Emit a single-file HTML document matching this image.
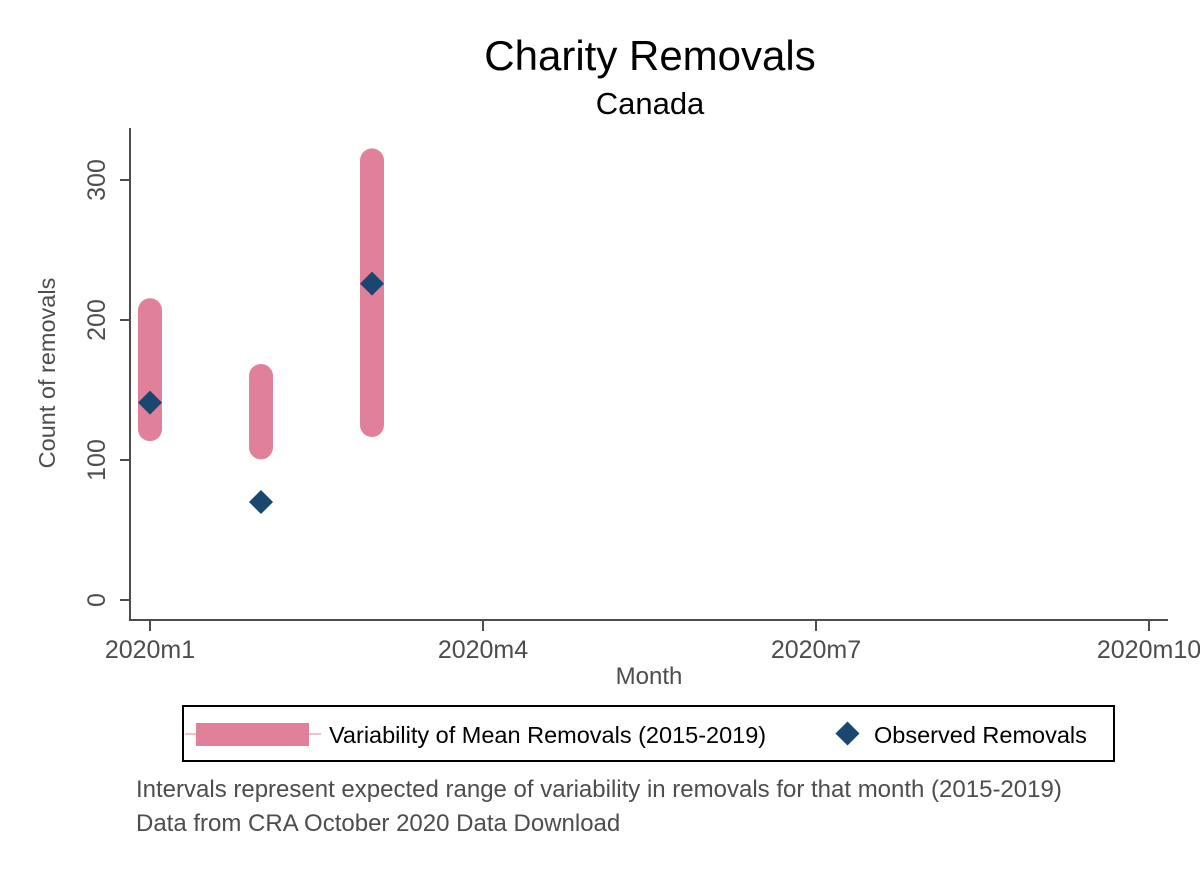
<!DOCTYPE html>
<html><head><meta charset="utf-8"><style>
body{margin:0;background:#fff;}
svg{display:block;font-family:"Liberation Sans",Arial,sans-serif;}
</style></head><body>
<svg id="chart" width="1200" height="873" viewBox="0 0 1200 873">
<rect width="1200" height="873" fill="#fff"/>
<text x="650" y="70" font-size="42" text-anchor="middle" fill="#000">Charity Removals</text>
<text x="650" y="114" font-size="31" text-anchor="middle" fill="#000">Canada</text>
<g id="axes" stroke="#4d4d4d" stroke-width="2" fill="none">
<line x1="130" y1="128" x2="130" y2="621"/>
<line x1="129" y1="620" x2="1168" y2="620"/>
</g>
<g id="yticks"></g><g id="xticks"></g>
<text transform="translate(55,373) rotate(-90)" font-size="23.5" fill="#4d4d4d" text-anchor="middle">Count of removals</text>
<text x="649" y="684" font-size="24" fill="#4d4d4d" text-anchor="middle">Month</text>
<g id="marks"></g>
<g>
<rect x="183" y="706" width="931" height="55" fill="#fff" stroke="#000" stroke-width="2"/>
<line x1="185" y1="734" x2="321" y2="734" stroke="#e0809a" stroke-width="1"/>
<rect x="196" y="723" width="113" height="23" fill="#e0809a"/>
<text x="329" y="743" font-size="23.5" fill="#000">Variability of Mean Removals (2015-2019)</text>
<rect x="839" y="725" width="17" height="17" fill="#1a476f" transform="rotate(45 847.5 733.5)"/>
<text x="874" y="743" font-size="23.5" fill="#000">Observed Removals</text>
</g>
<text x="136" y="797" font-size="24" fill="#4d4d4d">Intervals represent expected range of variability in removals for that month (2015-2019)</text>
<text x="136" y="831" font-size="24" fill="#4d4d4d">Data from CRA October 2020 Data Download</text>
</svg>
<script>
const months=[1,2,3];
const rangeLow=[122,109,125];
const rangeHigh=[207,160,314];
const observed=[141,70,226];
const yTicks=[0,100,200,300];
const xTickVals=[1,4,7,10];
const xTickLabels=["2020m1","2020m4","2020m7","2020m10"];
const NS="http://www.w3.org/2000/svg";
function xS(m){return 150+(m-1)*333/3;}
function yS(v){return 600-v*1.4;}
function mk(tag,attrs,parent){const e=document.createElementNS(NS,tag);for(const k in attrs)e.setAttribute(k,attrs[k]);parent.appendChild(e);return e;}
const yt=document.getElementById('yticks'),xt=document.getElementById('xticks'),marks=document.getElementById('marks');
yTicks.forEach(v=>{
const l=mk('line',{x1:120,x2:130,y1:yS(v),y2:yS(v),stroke:'#4d4d4d','stroke-width':2},yt);


const t=mk('text',{transform:`translate(105,${yS(v)}) rotate(-90)`,'font-size':25,fill:'#4d4d4d','text-anchor':'middle'},yt);
t.textContent=v;


});
xTickVals.forEach((m,i)=>{
const l=mk('line',{x1:xS(m),x2:xS(m),y1:620,y2:631,stroke:'#4d4d4d','stroke-width':2},xt);


const t=mk('text',{x:xS(m),y:658,'font-size':25,fill:'#4d4d4d','text-anchor':'middle'},xt);
t.textContent=xTickLabels[i];


});
months.forEach((m,i)=>{
const b=mk('line',{x1:xS(m),x2:xS(m),y1:yS(rangeHigh[i]),y2:yS(rangeLow[i]),stroke:'#e0809a','stroke-width':24,'stroke-linecap':'round'},marks);


});
months.forEach((m,i)=>{
const cx=xS(m),cy=yS(observed[i]);
const p=mk('rect',{x:cx-8.5,y:cy-8.5,width:17,height:17,fill:'#1a476f',transform:`rotate(45 ${cx} ${cy})`},marks);


});
</script>
</body></html>
